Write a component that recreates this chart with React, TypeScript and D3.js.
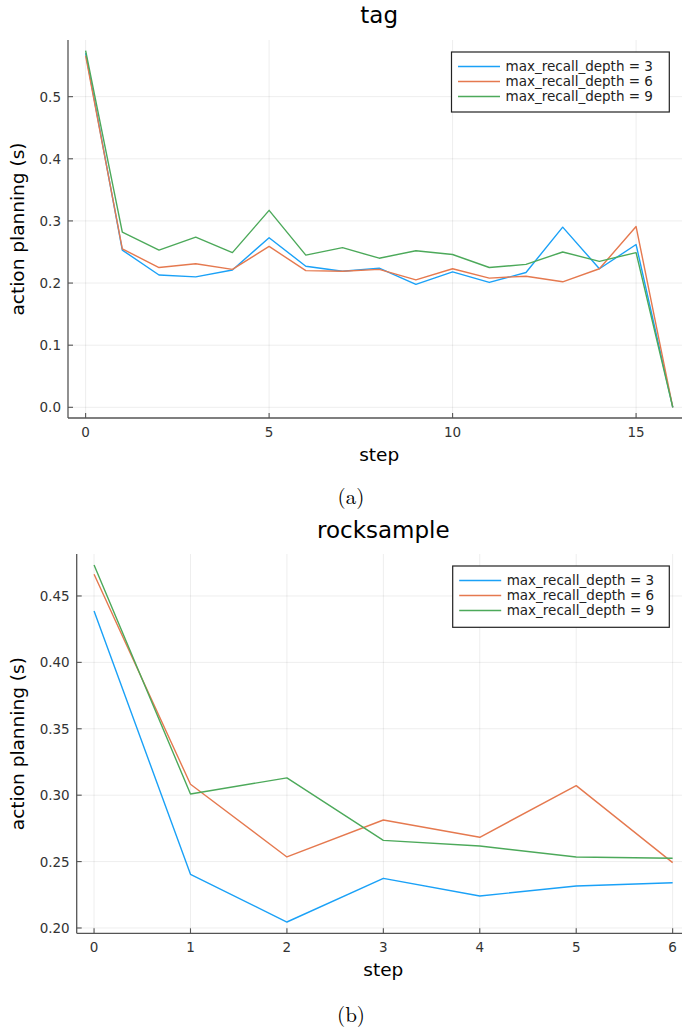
import React from "react";
import * as d3 from "d3";

const seriesNames = ["max_recall_depth = 3", "max_recall_depth = 6", "max_recall_depth = 9"];
const colors = ["#1aa1f7", "#e5794f", "#4ca95a"];

const tagSteps = [0, 1, 2, 3, 4, 5, 6, 7, 8, 9, 10, 11, 12, 13, 14, 15, 16];
const tagDepth3 = [0.570, 0.253, 0.213, 0.210, 0.221, 0.273, 0.227, 0.219, 0.224, 0.198, 0.218, 0.201, 0.217, 0.290, 0.223, 0.262, 0.0];
const tagDepth6 = [0.566, 0.255, 0.225, 0.231, 0.222, 0.259, 0.220, 0.219, 0.222, 0.205, 0.223, 0.208, 0.211, 0.202, 0.223, 0.291, 0.0];
const tagDepth9 = [0.574, 0.282, 0.253, 0.274, 0.249, 0.317, 0.245, 0.257, 0.240, 0.252, 0.246, 0.225, 0.230, 0.250, 0.235, 0.249, 0.0];
const tagXTicks = [0, 5, 10, 15];
const tagYTicks = [0.0, 0.1, 0.2, 0.3, 0.4, 0.5];

const rockSteps = [0, 1, 2, 3, 4, 5, 6];
const rockDepth3 = [0.4387, 0.2404, 0.2045, 0.2374, 0.2241, 0.2316, 0.2341];
const rockDepth6 = [0.4663, 0.3082, 0.2535, 0.2813, 0.2683, 0.3072, 0.2492];
const rockDepth9 = [0.4733, 0.3009, 0.3130, 0.2660, 0.2617, 0.2535, 0.2525];
const rockXTicks = [0, 1, 2, 3, 4, 5, 6];
const rockYTicks = [0.20, 0.25, 0.30, 0.35, 0.40, 0.45];

const FONT = "DejaVu Sans, sans-serif";

type PanelProps = {
  title: string;
  steps: number[];
  series: number[][];
  xDomain: [number, number];
  yDomain: [number, number];
  left: number;
  right: number;
  top: number;
  bottom: number;
  xTicks: number[];
  yTicks: number[];
  yFmt: (v: number) => string;
  titleY: number;
  legend: { x0: number; x1: number; y0: number; y1: number };
  caption: string;
  captionY: number;
};

function Panel(p: PanelProps) {
  const x = d3.scaleLinear().domain(p.xDomain).range([p.left, p.right]);
  const y = d3.scaleLinear().domain(p.yDomain).range([p.bottom, p.top]);
  const line = d3
    .line<number>()
    .x((_, i) => x(p.steps[i]))
    .y((d) => y(d));
  const cx = (p.left + p.right) / 2;
  const cy = (p.top + p.bottom) / 2;
  const lg = p.legend;
  return (
    <g>
      <text x={cx} y={p.titleY} textAnchor="middle" fontFamily={FONT} fontSize={23} fill="#000">
        {p.title}
      </text>
      {p.xTicks.map((t) => (
        <line key={"gx" + t} x1={x(t)} x2={x(t)} y1={p.top} y2={p.bottom} stroke="#000" strokeOpacity={0.07} strokeWidth={1} />
      ))}
      {p.yTicks.map((t) => (
        <line key={"gy" + t} x1={p.left} x2={p.right} y1={y(t)} y2={y(t)} stroke="#000" strokeOpacity={0.07} strokeWidth={1} />
      ))}
      <line x1={p.left} x2={p.left} y1={p.top} y2={p.bottom} stroke="#555" strokeWidth={1.3} />
      <line x1={p.left} x2={p.right} y1={p.bottom} y2={p.bottom} stroke="#555" strokeWidth={1.3} />
      {p.xTicks.map((t) => (
        <g key={"tx" + t}>
          <line x1={x(t)} x2={x(t)} y1={p.bottom} y2={p.bottom - 5} stroke="#555" strokeWidth={1.1} />
          <text x={x(t)} y={p.bottom + 19} textAnchor="middle" fontFamily={FONT} fontSize={13.5} fill="#333">
            {String(t)}
          </text>
        </g>
      ))}
      {p.yTicks.map((t) => (
        <g key={"ty" + t}>
          <line x1={p.left} x2={p.left + 5} y1={y(t)} y2={y(t)} stroke="#555" strokeWidth={1.1} />
          <text x={p.left - 7} y={y(t) + 5} textAnchor="end" fontFamily={FONT} fontSize={13.5} fill="#333">
            {p.yFmt(t)}
          </text>
        </g>
      ))}
      <text x={cx} y={p.bottom + 43} textAnchor="middle" fontFamily={FONT} fontSize={18.5} fill="#000">
        step
      </text>
      <text
        transform={`translate(${24},${cy}) rotate(-90)`}
        textAnchor="middle"
        fontFamily={FONT}
        fontSize={18.5}
        fill="#000"
      >
        action planning (s)
      </text>
      {p.series.map((s, i) => (
        <path key={"s" + i} d={line(s) || ""} fill="none" stroke={colors[i]} strokeWidth={1.4} strokeLinejoin="round" />
      ))}
      <rect x={lg.x0} y={lg.y0} width={lg.x1 - lg.x0} height={lg.y1 - lg.y0} fill="#fff" stroke="#222" strokeWidth={1.2} />
      {seriesNames.map((n, i) => {
        const ry = lg.y0 + 14.5 + i * 15;
        return (
          <g key={"l" + i}>
            <line x1={lg.x0 + 6.5} x2={lg.x0 + 48.5} y1={ry} y2={ry} stroke={colors[i]} strokeWidth={1.4} />
            <text x={lg.x0 + 54} y={ry + 4.8} fontFamily={FONT} fontSize={13.5} fill="#222">
              {n}
            </text>
          </g>
        );
      })}
      <text
        x={351}
        y={p.captionY}
        textAnchor="middle"
        fontFamily="'Latin Modern Roman', 'CMU Serif', 'Liberation Serif', serif"
        fontSize={21}
        fill="#000"
      >
        {p.caption}
      </text>
    </g>
  );
}

export default function App() {
  return (
    <svg
      width={682}
      height={1030}
      viewBox="0 0 682 1030"
      style={{ position: "absolute", left: 0, top: 0, background: "#fff" }}
    >
      <rect x={0} y={0} width={682} height={1030} fill="#fff" />
      <Panel
        title="tag"
        steps={tagSteps}
        series={[tagDepth3, tagDepth6, tagDepth9]}
        xDomain={[-0.48, 16.48]}
        yDomain={[-0.0172, 0.5912]}
        left={68}
        right={690.4}
        top={40}
        bottom={418}
        xTicks={tagXTicks}
        yTicks={tagYTicks}
        yFmt={(v) => d3.format(".1f")(v)}
        titleY={23}
        legend={{ x0: 451.5, x1: 669.3, y0: 52, y1: 112 }}
        caption="(a)"
        captionY={504}
      />
      <Panel
        title="rocksample"
        steps={rockSteps}
        series={[rockDepth3, rockDepth6, rockDepth9]}
        xDomain={[-0.18, 6.18]}
        yDomain={[0.196, 0.4816]}
        left={76.7}
        right={690}
        top={554}
        bottom={933.3}
        xTicks={rockXTicks}
        yTicks={rockYTicks}
        yFmt={(v) => d3.format(".2f")(v)}
        titleY={538}
        legend={{ x0: 452.7, x1: 669.3, y0: 566, y1: 627.3 }}
        caption="(b)"
        captionY={1022}
      />
    </svg>
  );
}
